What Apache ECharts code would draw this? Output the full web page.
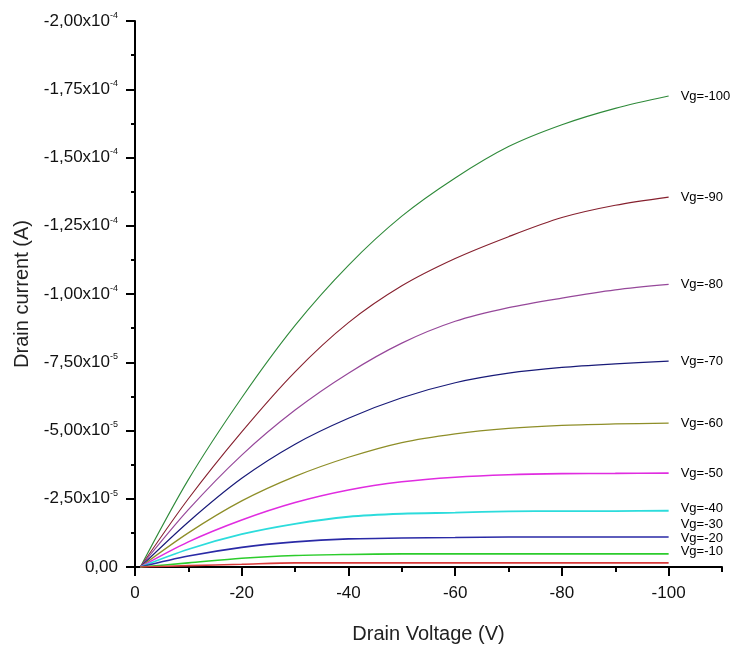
<!DOCTYPE html>
<html lang="en">
<head>
<meta charset="UTF-8">
<title>Drain current vs drain voltage</title>
<script src="https://cdn.jsdelivr.net/npm/echarts@6.0.0/dist/echarts.min.js"></script>
<style>
    * { margin: 0; padding: 0; box-sizing: border-box; }
    body { background: #fff; }
    #chart { width: 732px; height: 654px; }
</style>
</head>
<body>
<div id="chart"></div>
<script>
    // drain voltage (V)
    const drainVoltage = [-1, -10, -20, -30, -40, -50, -60, -70, -80, -90, -100];

    // drain current, in units of 1e-5 A, one list per gate voltage
    const idVg100 = [0, -3.2, -6.2, -8.85, -11.05, -12.85, -14.25, -15.4, -16.2, -16.8, -17.25];
    const idVg90  = [0, -2.5, -4.95, -7.15, -8.95, -10.3, -11.3, -12.1, -12.8, -13.25, -13.55];
    const idVg80  = [0, -2.1, -4.1, -5.75, -7.1, -8.2, -9.0, -9.5, -9.85, -10.15, -10.35];
    const idVg70  = [0, -1.65, -3.25, -4.5, -5.45, -6.2, -6.75, -7.1, -7.31, -7.44, -7.54];
    const idVg60  = [0, -1.25, -2.42, -3.32, -4.02, -4.56, -4.88, -5.08, -5.19, -5.24, -5.27];
    const idVg50  = [0, -0.92, -1.72, -2.36, -2.82, -3.12, -3.29, -3.38, -3.42, -3.43, -3.44];
    const idVg40  = [0, -0.65, -1.2, -1.58, -1.84, -1.95, -1.99, -2.04, -2.05, -2.05, -2.06];
    const idVg30  = [0, -0.4, -0.72, -0.92, -1.03, -1.06, -1.08, -1.1, -1.1, -1.1, -1.1];
    const idVg20  = [0, -0.15, -0.32, -0.42, -0.46, -0.48, -0.48, -0.48, -0.48, -0.48, -0.48];
    const idVg10  = [0, -0.05, -0.1, -0.15, -0.15, -0.15, -0.15, -0.15, -0.15, -0.15, -0.15];

    const gateNames = ['Vg=-100', 'Vg=-90', 'Vg=-80', 'Vg=-70', 'Vg=-60',
                       'Vg=-50', 'Vg=-40', 'Vg=-30', 'Vg=-20', 'Vg=-10'];
    const currents = [idVg100, idVg90, idVg80, idVg70, idVg60, idVg50, idVg40, idVg30, idVg20, idVg10];
    const lineColors = ['#2f8a3a', '#86202e', '#96489a', '#181a78', '#8e8e28',
                        '#e02ce0', '#2cdcdc', '#2a2aa6', '#2ccc2c', '#d83a3a'];
    const lineWidths = [1.1, 1.1, 1.2, 1.2, 1.3, 1.6, 1.8, 1.6, 1.6, 1.6];
    // labels on the right are stacked where the low curves crowd together
    const labelShift = [0, 0, 0, 0, 0, 0, -2, -13, -15, -11];

    const majorX = [0, -20, -40, -60, -80, -100];
    const minorX = [-10, -30, -50, -70, -90, -110];

    const font = 'Liberation Sans, Arial, sans-serif';

    function currentLabel(v) {
        if (Math.abs(v) < 1e-9) return '{m|0,00}';
        const exp = Math.abs(v) >= 10 ? -4 : -5;
        const mant = (v * 1e-5 / Math.pow(10, exp)).toFixed(2).replace('.', ',');
        return '{m|' + mant + 'x10}{e|' + exp + '}';
    }

    const chart = echarts.init(document.getElementById('chart'));

    const series = currents.map(function (ys, i) {
        return {
            name: gateNames[i],
            type: 'line',
            data: drainVoltage.map(function (x, k) { return [x, ys[k]]; }),
            showSymbol: false,
            symbol: 'none',
            smooth: 0.3,
            lineStyle: { color: lineColors[i], width: lineWidths[i] },
            itemStyle: { color: lineColors[i] },
            endLabel: {
                show: true,
                formatter: gateNames[i],
                align: 'left',
                distance: 0,
                offset: [12, labelShift[i]],
                fontSize: 13,
                fontFamily: font,
                color: '#000'
            }
        };
    });

    chart.setOption({
        animation: false,
        backgroundColor: '#fff',
        grid: { left: 135, right: 10, top: 21, bottom: 87 },
        xAxis: [{
            type: 'value',
            min: -110,
            max: 0,
            inverse: true,
            name: 'Drain Voltage (V)',
            nameLocation: 'middle',
            nameGap: 57,
            nameTextStyle: { fontSize: 20, color: '#222', fontFamily: font },
            axisLine: { onZero: false, lineStyle: { color: '#000', width: 2 } },
            axisTick: { length: 9, customValues: majorX, lineStyle: { color: '#000', width: 2 } },
            axisLabel: { customValues: majorX, margin: 18, fontSize: 17, color: '#111', fontFamily: font },
            splitLine: { show: false }
        }, {
            type: 'value',
            min: -110,
            max: 0,
            inverse: true,
            position: 'bottom',
            axisLine: { show: false, onZero: false },
            axisTick: { length: 5, customValues: minorX, lineStyle: { color: '#000', width: 2 } },
            axisLabel: { show: false },
            splitLine: { show: false }
        }],
        yAxis: {
            type: 'value',
            min: -20,
            max: 0,
            interval: 2.5,
            inverse: true,
            name: 'Drain current (A)',
            nameLocation: 'middle',
            nameGap: 103,
            nameTextStyle: { fontSize: 20, color: '#222', fontFamily: font },
            axisLine: { show: true, onZero: false, lineStyle: { color: '#000', width: 2 } },
            axisTick: { length: 9, lineStyle: { color: '#000', width: 2 } },
            minorTick: { show: true, splitNumber: 2, length: 4, lineStyle: { color: '#000', width: 2 } },
            splitLine: { show: false },
            axisLabel: {
                margin: 17,
                formatter: currentLabel,
                rich: {
                    m: { fontSize: 17, color: '#111', fontFamily: font },
                    e: { fontSize: 9, color: '#111', fontFamily: font, padding: [0, 0, 11, 0] }
                }
            }
        },
        series: series
    });
</script>
</body>
</html>
